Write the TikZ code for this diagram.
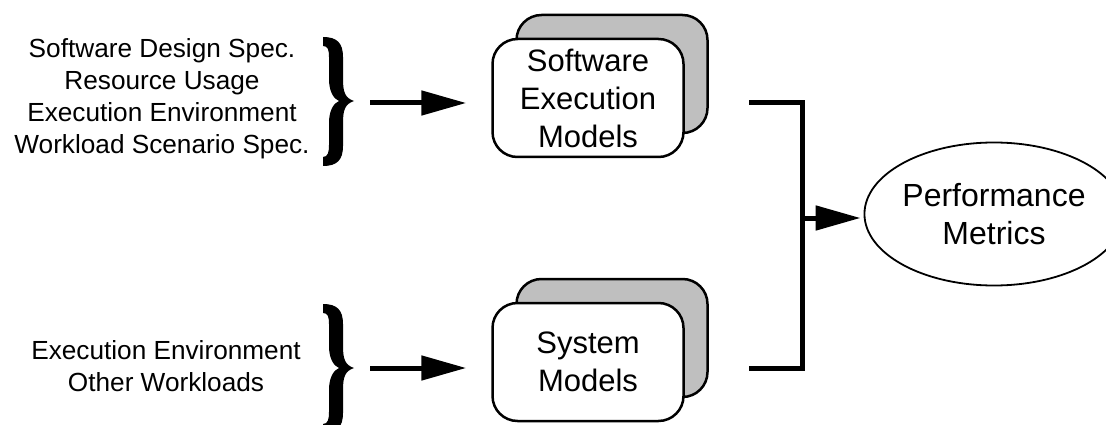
\documentclass[tikz,border=0pt]{standalone}
\usepackage{fontspec}
\setmainfont{Liberation Sans}
\usetikzlibrary{arrows.meta}
\usetikzlibrary{shapes.geometric}

\begin{document}
\begin{tikzpicture}[
        x=1pt, y=-1pt,
        >={Triangle[length=45pt, width=24pt]},
        entree/.style={align=center, inner sep=0pt, font=\fontsize{26.2}{32}\selectfont},
        modele/.style={draw, line width=2.5pt, rounded corners=25pt, fill=white,
            minimum width=191pt, minimum height=118pt, align=center, inner sep=0pt,
            font=\fontsize{31}{38}\selectfont},
        ombre/.style={modele, fill=black!25},
        mesure/.style={ellipse, draw, line width=1.8pt, minimum width=216pt,
            minimum height=143pt, inner sep=0pt, align=center,
            font=\fontsize{32}{38}\selectfont},
        fleche/.style={->, line width=5pt},
        trait/.style={line width=5pt, line join=miter}
    ]
    \useasboundingbox (0,0) rectangle (1106,425);

    % -- Position des noeuds --
    \node[entree] (inSw) at (162,99)
        {Software Design Spec.\\Resource Usage\\Execution Environment\\Workload Scenario Spec.};
    \node[entree] (inSys) at (166,366) {Execution Environment\\Other Workloads};

    \coordinate (swPos) at (588,98);
    \coordinate (sysPos) at (588,362);
    \node[ombre] (swBack) at ([shift={(24,-24)}]swPos) {};
    \node[modele] (swModel) at (swPos) {Software\\Execution\\Models};
    \node[ombre] (sysBack) at ([shift={(24,-24)}]sysPos) {};
    \node[modele] (sysModel) at (sysPos) {System\\Models};

    \node[mesure] (perf) at (994,214) {Performance\\Metrics};

    % -- Points libres des fleches --
    \coordinate (swIn) at (370,103);
    \coordinate (sysIn) at (370,368);
    \coordinate (swOut) at (749,103);
    \coordinate (sysOut) at (749,368);
    \coordinate (joint) at (802,218);

    % -- Accolades --
    % entrees du modele logiciel :
    \fill[shift={(353,101)}]
        (1,0) .. controls (-8,-3) and (-10,-9) .. (-10,-22)
        -- (-10,-44) .. controls (-10,-58) and (-16,-64) .. (-30,-64)
        -- (-30,-55) .. controls (-25,-55) and (-24,-51) .. (-24,-44)
        -- (-24,-22) .. controls (-24,-9) and (-19,-2) .. (-14,0)
        .. controls (-19,2) and (-24,9) .. (-24,22)
        -- (-24,44) .. controls (-24,51) and (-25,56) .. (-30,56)
        -- (-30,65) .. controls (-16,65) and (-10,59) .. (-10,45)
        -- (-10,22) .. controls (-10,9) and (-8,3) .. (1,0) -- cycle;

    % entrees du modele systeme :
    \fill[shift={(353,368)}]
        (1,0) .. controls (-8,-3) and (-10,-9) .. (-10,-22)
        -- (-10,-44) .. controls (-10,-58) and (-16,-64) .. (-30,-64)
        -- (-30,-55) .. controls (-25,-55) and (-24,-51) .. (-24,-44)
        -- (-24,-22) .. controls (-24,-9) and (-19,-2) .. (-14,0)
        .. controls (-19,2) and (-24,9) .. (-24,22)
        -- (-24,44) .. controls (-24,51) and (-25,56) .. (-30,56)
        -- (-30,65) .. controls (-16,65) and (-10,59) .. (-10,45)
        -- (-10,22) .. controls (-10,9) and (-8,3) .. (1,0) -- cycle;

    % -- Fleches --
    % entrees -> modele logiciel :
    \draw[fleche, shorten >=25pt] (swIn) -- (swIn -| swModel.west);

    % entrees -> modele systeme :
    \draw[fleche, shorten >=25pt] (sysIn) -- (sysIn -| sysModel.west);

    % modeles -> metriques :
    \draw[trait] (swOut) -- (swOut -| joint) -- (sysOut -| joint) -- (sysOut);
    \draw[fleche, shorten >=3pt] (joint) -- (joint -| perf.west);

\end{tikzpicture}
\end{document}
